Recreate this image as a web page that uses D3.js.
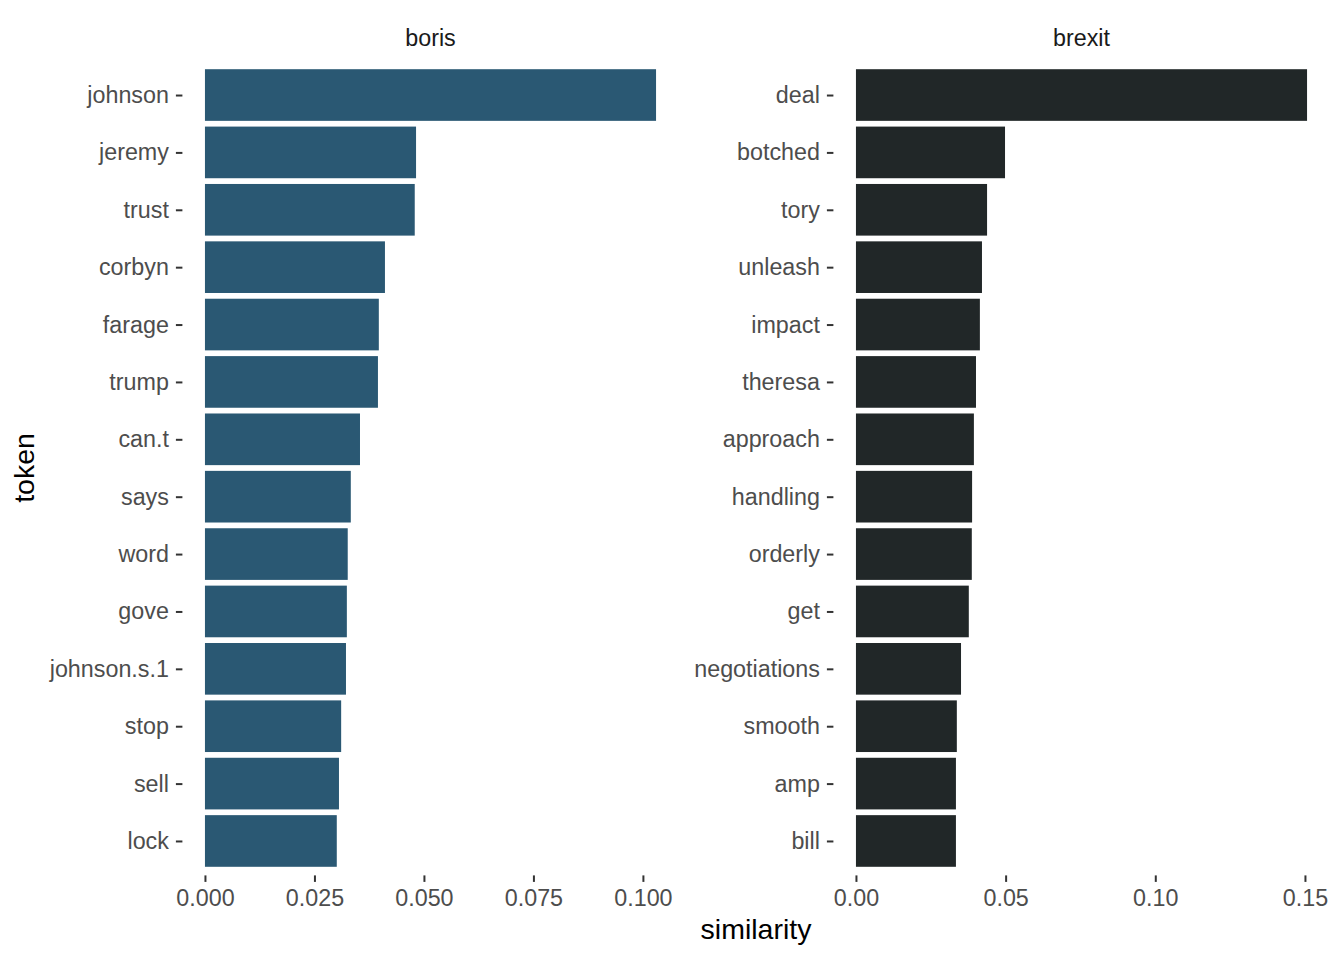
<!DOCTYPE html>
<html>
<head>
<meta charset="utf-8">
<script src="https://cdn.jsdelivr.net/npm/d3@7"></script>
<style>
  html, body { margin: 0; padding: 0; background: #ffffff; }
  svg { display: block; font-family: "Liberation Sans", Arial, Helvetica, sans-serif; }
</style>
</head>
<body>
<svg id="chart" width="1344" height="960"></svg>
<script>
// ---- data ----
const borisTokens = ["johnson", "jeremy", "trust", "corbyn", "farage", "trump", "can.t", "says", "word", "gove", "johnson.s.1", "stop", "sell", "lock"];
const borisValues = [0.1030, 0.0482, 0.0479, 0.0411, 0.0397, 0.0395, 0.0354, 0.0333, 0.0326, 0.0324, 0.0322, 0.0311, 0.0306, 0.0301];
const brexitTokens = ["deal", "botched", "tory", "unleash", "impact", "theresa", "approach", "handling", "orderly", "get", "negotiations", "smooth", "amp", "bill"];
const brexitValues = [0.1507, 0.0498, 0.0438, 0.0421, 0.0414, 0.0401, 0.0394, 0.0388, 0.0387, 0.0377, 0.0351, 0.0337, 0.0334, 0.0334];
const borisTicks = [0, 0.025, 0.05, 0.075, 0.1];
const borisTickLabels = ["0.000", "0.025", "0.050", "0.075", "0.100"];
const brexitTicks = [0, 0.05, 0.1, 0.15];
const brexitTickLabels = ["0.00", "0.05", "0.10", "0.15"];
const panelNames = ["boris", "brexit"];
const fills = ["#2a5873", "#212728"];
const xTitle = "similarity";
const yTitle = "token";

const panels = [
  { name: panelNames[0], tokens: borisTokens, values: borisValues, ticks: borisTicks, labels: borisTickLabels, fill: fills[0], x0: 182.4, x1: 678.6 },
  { name: panelNames[1], tokens: brexitTokens, values: brexitValues, ticks: brexitTicks, labels: brexitTickLabels, fill: fills[1], x0: 833.4, x1: 1329.6 }
];

const svg = d3.select("#chart");
const panelTop = 60.6, panelBottom = 875.4;
const tickColor = "#333333", textColor = "#4d4d4d";
const smallFont = "23.3px";

panels.forEach(p => {
  const maxV = d3.max(p.values);
  const x = d3.scaleLinear().domain([-0.05 * maxV, 1.05 * maxV]).range([p.x0, p.x1]);
  const y = d3.scalePoint().domain(p.tokens).range([panelTop, panelBottom]).padding(0.6);
  const bh = y.step() * 0.9;
  const g = svg.append("g");

  // bars
  g.selectAll("rect").data(p.tokens).enter().append("rect")
    .attr("x", x(0))
    .attr("y", (d) => y(d) - bh / 2)
    .attr("width", (d, i) => x(p.values[i]) - x(0))
    .attr("height", bh)
    .attr("fill", p.fill);

  // strip label
  g.append("text")
    .attr("x", (p.x0 + p.x1) / 2).attr("y", 46)
    .attr("text-anchor", "middle")
    .attr("font-size", smallFont).attr("fill", "#1a1a1a")
    .text(p.name);

  // y axis
  const yAxis = d3.axisLeft(y).tickSize(6.5).tickPadding(7);
  const ya = g.append("g").attr("transform", `translate(${p.x0},0)`).call(yAxis);
  ya.select(".domain").remove();
  ya.selectAll(".tick line").attr("stroke", tickColor).attr("stroke-width", 2);
  ya.selectAll(".tick text").attr("fill", textColor).attr("font-size", smallFont)
    .attr("font-family", "'Liberation Sans', Arial, sans-serif");

  // x axis
  const xAxis = d3.axisBottom(x).tickValues(p.ticks)
    .tickFormat((d, i) => p.labels[i]).tickSize(6.5).tickPadding(8);
  const xa = g.append("g").attr("transform", `translate(0,${panelBottom})`).call(xAxis);
  xa.select(".domain").remove();
  xa.selectAll(".tick line").attr("stroke", tickColor).attr("stroke-width", 2);
  xa.selectAll(".tick text").attr("fill", textColor).attr("font-size", smallFont)
    .attr("font-family", "'Liberation Sans', Arial, sans-serif");
});

// axis titles
svg.append("text")
  .attr("x", (182.4 + 1329.6) / 2).attr("y", 939)
  .attr("text-anchor", "middle").attr("font-size", "28.5px").attr("fill", "#000")
  .text(xTitle);
svg.append("text")
  .attr("transform", `translate(34,${(panelTop + panelBottom) / 2}) rotate(-90)`)
  .attr("text-anchor", "middle").attr("font-size", "28.5px").attr("fill", "#000")
  .text(yTitle);
</script>
</body>
</html>
